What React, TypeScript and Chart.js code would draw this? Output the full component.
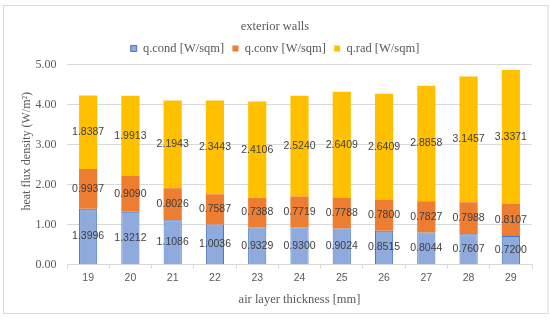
import React, { useEffect, useRef } from "react";
import { Chart, registerables } from "chart.js";

Chart.register(...registerables);

const categories = ["19", "20", "21", "22", "23", "24", "25", "26", "27", "28", "29"];
const qCond = [1.3996, 1.3212, 1.1086, 1.0036, 0.9329, 0.93, 0.9024, 0.8515, 0.8044, 0.7607, 0.72];
const qConv = [0.9937, 0.909, 0.8026, 0.7587, 0.7388, 0.7719, 0.7788, 0.78, 0.7827, 0.7988, 0.8107];
const qRad = [1.8387, 1.9913, 2.1943, 2.3443, 2.4106, 2.524, 2.6409, 2.6409, 2.8858, 3.1457, 3.3371];
const seriesNames = ["q.cond [W/sqm]", "q.conv [W/sqm]", "q.rad [W/sqm]"];
const yTicks = [0, 1, 2, 3, 4, 5];

const SERIF = "'Liberation Serif', 'DejaVu Serif', serif";
const SANS = "'Liberation Sans', 'DejaVu Sans', sans-serif";

const frame = {
  id: "frame",
  beforeDraw(chart: any) {
    const ctx = chart.ctx;
    ctx.save();
    ctx.fillStyle = "#ffffff";
    ctx.fillRect(0, 0, chart.width, chart.height);
    ctx.strokeStyle = "#d9d9d9";
    ctx.lineWidth = 1;
    ctx.strokeRect(3.5, 5.5, 544.5, 308);
    ctx.restore();
  },
};

const dataLabels = {
  id: "dataLabels",
  afterDatasetsDraw(chart: any) {
    const ctx = chart.ctx;
    ctx.save();
    ctx.font = `10.5px ${SANS}`;
    ctx.fillStyle = "#404040";
    ctx.textAlign = "center";
    ctx.textBaseline = "middle";
    chart.data.datasets.forEach((ds: any, i: number) => {
      const meta = chart.getDatasetMeta(i);
      meta.data.forEach((el: any, j: number) => {
        const y = (el.y + el.base) / 2;
        ctx.fillText(Number(ds.data[j]).toFixed(4), el.x, y);
      });
    });
    ctx.restore();
  },
};

export default function App() {
  const ref = useRef<HTMLCanvasElement>(null);
  useEffect(() => {
    document.body.style.margin = "0";
    const chart = new Chart(ref.current!, {
      type: "bar",
      data: {
        labels: categories,
        datasets: [
          { label: seriesNames[0], data: qCond, backgroundColor: "#8faadc", borderColor: "#4472c4", borderWidth: 1 },
          { label: seriesNames[1], data: qConv, backgroundColor: "#ed7d31", borderWidth: 0 },
          { label: seriesNames[2], data: qRad, backgroundColor: "#ffc000", borderWidth: 0 },
        ],
      },
      options: {
        animation: false,
        responsive: false,
        maintainAspectRatio: false,
        layout: { padding: { left: 3, right: 3, top: 0, bottom: 10 } },
        datasets: { bar: { barPercentage: 0.43, categoryPercentage: 1 } },
        plugins: {
          title: {
            display: true,
            text: "exterior walls",
            color: "#595959",
            font: { family: SERIF, size: 12.5, weight: "normal", lineHeight: 1.2 },
            padding: { top: 15.5, bottom: 0 },
          },
          legend: {
            display: true,
            position: "top",
            labels: {
              color: "#595959",
              font: { family: SERIF, size: 12.5 },
              boxWidth: 6,
              boxHeight: 6,
              padding: 8.25,
            },
          },
          tooltip: { enabled: false },
        },
        scales: {
          x: {
            stacked: true,
            afterFit: (s: any) => {
              s.height = 48.3;
              s.paddingRight = 18;
            },
            grid: { display: true, drawOnChartArea: false, drawTicks: true, tickLength: 4, color: "#d9d9d9", offset: true },
            border: { display: true, color: "#d9d9d9" },
            ticks: { color: "#595959", font: { family: SANS, size: 10.5 }, padding: 3 },
            title: {
              display: true,
              text: "air layer thickness [mm]",
              color: "#595959",
              font: { family: SERIF, size: 12.5, lineHeight: 1.2 },
              padding: { top: 0, bottom: 5.5 },
            },
          },
          y: {
            stacked: true,
            min: 0,
            max: 5,
            afterBuildTicks: (s: any) => {
              s.ticks = yTicks.map((v) => ({ value: v }));
            },
            afterFit: (s: any) => {
              s.width = 64;
              s.paddingTop = 64.7;
            },
            grid: { color: "#d9d9d9", drawTicks: false },
            border: { display: false },
            ticks: {
              color: "#595959",
              font: { family: SERIF, size: 12 },
              padding: 10.5,
              callback: (v: any) => Number(v).toFixed(2),
            },
            title: {
              display: true,
              text: "         heat flux density (W/m²)",
              color: "#595959",
              font: { family: SERIF, size: 12, lineHeight: 1.2 },
              padding: { top: 16.8, bottom: 0 },
            },
          },
        },
      },
      plugins: [frame, dataLabels],
    } as any);
    return () => chart.destroy();
  }, []);
  return (
    <div style={{ position: "absolute", left: 0, top: 0, width: 550, height: 323 }}>
      <canvas ref={ref} width={550} height={323} />
    </div>
  );
}
